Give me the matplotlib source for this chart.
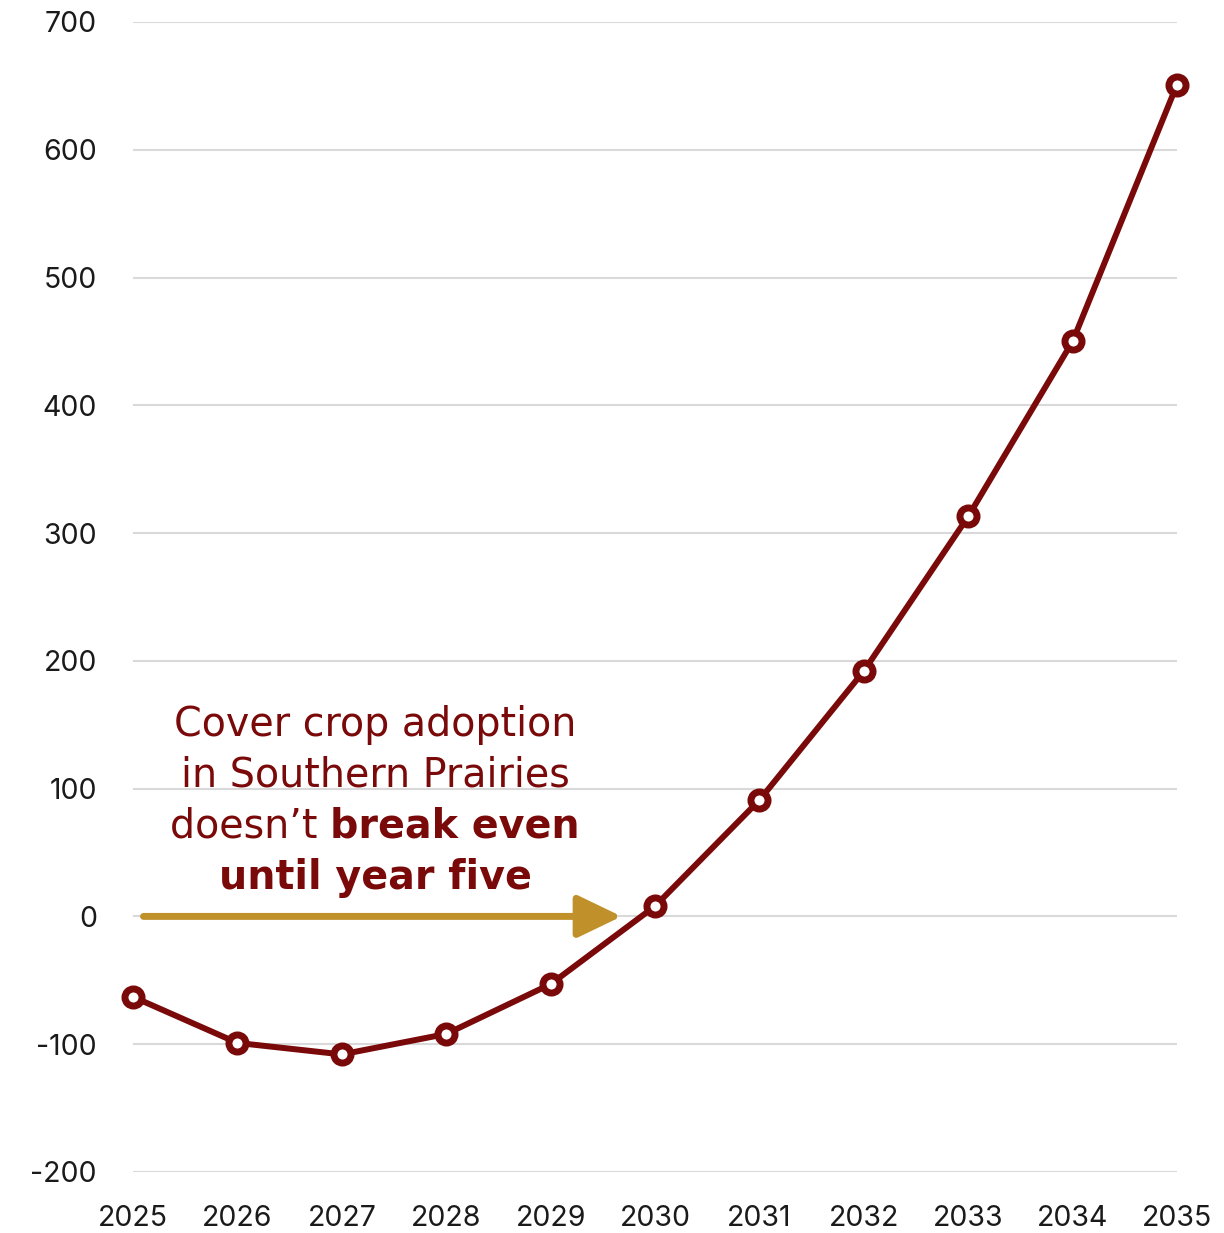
import matplotlib
matplotlib.use("Agg")
import matplotlib.pyplot as plt
import matplotlib.transforms as mtransforms

# data
years = [2025, 2026, 2027, 2028, 2029, 2030, 2031, 2032, 2033, 2034, 2035]
values = [-63, -99, -108, -92, -53, 8, 91, 192, 313, 450, 651]
yticks = [-200, -100, 0, 100, 200, 300, 400, 500, 600, 700]

red = "#7a0909"
gold = "#c0912a"

plt.rcParams['axes.unicode_minus'] = False
plt.rcParams['font.family'] = ['Inter', 'DejaVu Sans']

fig = plt.figure(figsize=(12.24, 12.33), dpi=100)
ax = fig.add_axes([0.1087, 0.0495, 0.8529, 0.9327])

ax.plot(years, values, color=red, lw=4.3, marker='o', ms=12.3,
        mfc='white', mec=red, mew=5, clip_on=False, zorder=5)

ax.set_xlim(2025, 2035)
ax.set_ylim(-200, 700)
ax.set_xticks(years)
ax.set_yticks(yticks)
ax.grid(axis='y', color='#d9d9d9', lw=1.5)
ax.set_axisbelow(True)
for s in ax.spines.values():
    s.set_visible(False)
ax.tick_params(length=0, labelsize=20.5, labelcolor='#1a1a1a')
ax.tick_params(axis='y', pad=26)
ax.tick_params(axis='x', pad=24)

# arrow to break-even
ax.annotate('', xy=(2029.68, 0), xytext=(2025.1, 0),
            arrowprops=dict(arrowstyle='-|>,head_length=1.35,head_width=0.65',
                            mutation_scale=20, lw=5, color=gold,
                            shrinkA=0, shrinkB=0), zorder=4)

cx = 2027.32
fam = ['DejaVu Sans']
fs = 28.5
tf = dict(color=red, fontsize=fs, family=fam, ha='center', va='baseline')
ax.text(cx, 141.5, "Cover crop adoption", **tf)
ax.text(cx, 102.0, "in Southern Prairies", **tf)
ax.text(cx, 21.5, "until year five", fontweight='bold', **tf)

# mixed regular/bold line
fig.canvas.draw()
r = fig.canvas.get_renderer()
t1 = ax.text(cx, 61.8, "doesn\u2019t ", color=red, fontsize=fs,
             family=fam, ha='left', va='baseline')
t2 = ax.text(cx, 61.8, "break even", color=red, fontsize=fs, fontweight='bold',
             family=fam, ha='left', va='baseline')
w1 = t1.get_window_extent(r).width
w2 = t2.get_window_extent(r).width
tot = w1 + w2
t1.set_transform(ax.transData + mtransforms.Affine2D().translate(-tot / 2, 0))
t2.set_transform(ax.transData + mtransforms.Affine2D().translate(-tot / 2 + w1, 0))

fig.savefig("out.png", dpi=100)
